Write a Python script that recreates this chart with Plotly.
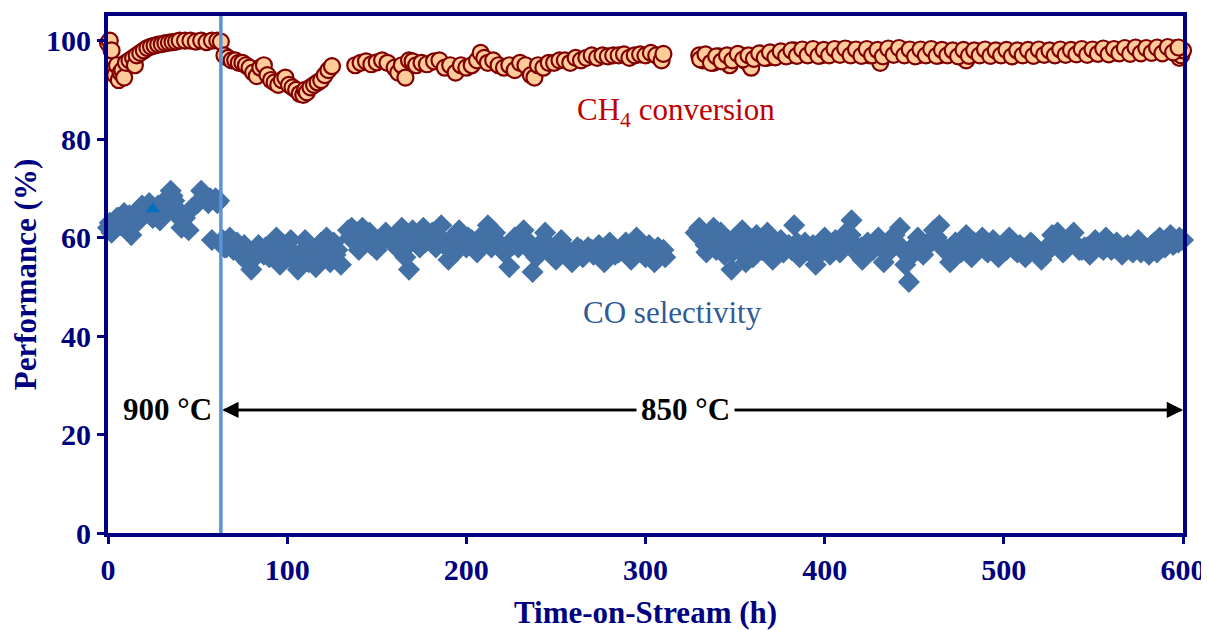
import plotly.graph_objects as go

# ---- CH4 conversion (%) ----
ch4_t = [0, 1, 2, 3, 4, 5, 6, 7, 8, 9, 10, 12, 14, 15, 16, 18, 20, 22, 24, 26, 28, 30, 32, 34, 36, 38, 40, 43, 46, 49, 52, 55, 58, 61, 63,
         65, 67, 69, 71, 73, 75, 77, 79, 81, 83, 85, 87, 89, 91, 93, 95, 97, 99, 101, 103, 105, 107, 109, 110, 111, 113, 115, 117, 119, 121, 123, 125,
         138, 141, 144, 147, 150, 153, 156, 160, 162, 164, 166, 168, 170, 172, 175, 178, 182, 185, 188, 191, 194, 197, 200, 203, 206, 208, 210, 212,
         215, 218, 221, 224, 227, 230, 233, 236, 238, 240, 243, 246, 249, 252, 255, 258, 261, 264, 267, 270, 273, 276, 279, 282, 285, 288, 291, 294,
         297, 300, 303, 306, 309, 310,
         330, 332, 335, 338, 341, 344, 347, 350, 353, 356, 359, 362, 365, 368, 371, 374, 377, 380, 383, 386, 389, 392, 395, 398, 401, 404, 407, 410,
         413, 416, 419, 422, 425, 428, 431, 434, 437, 440, 443, 446, 449, 452, 455, 458, 461, 464, 467, 470, 473, 476, 479, 482, 485, 488, 491, 494,
         497, 500, 503, 506, 509, 512, 515, 518, 521, 524, 527, 530, 533, 536, 539, 542, 545, 548, 551, 554, 557, 560, 563, 566, 569, 572, 575, 578,
         581, 584, 587, 590, 593, 596, 598, 599, 600]
ch4_v = [99.5, 100, 98.0, 94.0, 93.0, 95.0, 92.0, 93.5, 94.0, 92.5, 95.5, 96.0, 96.5, 95.0, 97.0, 97.5, 98.0, 98.5, 98.8, 99.0, 99.2, 99.3, 99.5, 99.6, 99.7, 99.8, 100, 100, 100, 99.8, 100, 99.7, 100, 100, 99.8,
         97.0, 96.5, 96.0, 96.0, 95.5, 95.5, 95.0, 94.5, 93.5, 92.8, 94.5, 95.0, 93.0, 92.0, 91.5, 91.0, 92.0, 92.5, 91.0, 90.5, 90.0, 89.2, 89.0, 90.0, 89.5, 90.5, 91.0, 91.5, 92.0, 93.0, 94.0, 94.8,
         95.0, 95.5, 95.8, 95.2, 95.6, 96.0, 95.5, 94.5, 93.5, 95.0, 92.5, 96.0, 95.8, 95.0, 95.5, 95.2, 95.8, 96.0, 94.5, 95.0, 93.5, 95.0, 94.5, 95.0, 96.0, 97.5, 96.5, 95.5,
         96.0, 95.0, 94.5, 95.0, 94.0, 95.5, 95.0, 93.0, 92.5, 95.0, 94.5, 95.5, 95.5, 96.0, 96.0, 95.5, 96.5, 96.0, 96.5, 97.0, 96.5, 97.0, 96.8, 97.0, 97.0, 97.2, 96.5, 97.0,
         97.2, 97.0, 97.5, 97.0, 96.0, 97.3,
         97.0, 96.0, 96.5, 95.5, 96.8, 96.0, 95.0, 96.5, 97.0, 95.8, 94.5, 96.5, 97.0, 96.5, 97.2, 97.0, 97.5, 97.0, 98.0, 97.5, 97.2, 97.8, 97.5, 97.0, 97.8, 97.5, 98.0, 97.5,
         98.2, 97.8, 97.5, 97.8, 97.0, 97.5, 95.5, 97.5, 98.0, 97.5, 98.2, 97.5, 97.8, 97.0, 97.5, 97.8, 97.5, 97.0, 97.6, 97.8, 97.5, 97.2, 96.0, 97.6, 97.8, 97.5, 97.3, 97.6,
         97.8, 97.4, 97.6, 97.5, 97.8, 97.5, 97.7, 97.2, 97.5, 97.8, 97.5, 97.6, 97.8, 97.4, 97.5, 97.8, 97.6, 97.9, 97.5, 97.8, 98.0, 97.8, 97.5, 98.0, 98.2, 98.0, 98.3, 98.0,
         98.2, 98.0, 97.8, 98.2, 98.4, 98.5, 96.5, 97.0, 98.0]

# extra readings in the long 850 °C run (shared time stamps)
late_t = [330.5, 333.5, 336.5, 339.5, 342.5, 345.5, 348.5, 351.5, 354.5, 357.5,
          360.5, 363.5, 366.5, 369.5, 372.5, 375.5, 378.5, 381.5, 384.5, 387.5,
          390.5, 393.5, 396.5, 399.5, 402.5, 405.5, 408.5, 411.5, 414.5, 417.5,
          420.5, 423.5, 426.5, 429.5, 432.5, 435.5, 438.5, 441.5, 444.5, 447.5,
          450.5, 453.5, 456.5, 459.5, 462.5, 465.5, 468.5, 471.5, 474.5, 477.5,
          480.5, 483.5, 486.5, 489.5, 492.5, 495.5, 498.5, 501.5, 504.5, 507.5,
          510.5, 513.5, 516.5, 519.5, 522.5, 525.5, 528.5, 531.5, 534.5, 537.5,
          540.5, 543.5, 546.5, 549.5, 552.5, 555.5, 558.5, 561.5, 564.5, 567.5,
          570.5, 573.5, 576.5, 579.5, 582.5, 585.5, 588.5, 591.5, 594.5, 597.5]
ch4_late_v = [96.2, 97.2, 95.5, 96.8, 95.8, 97.0, 96.0, 97.3, 96.2, 97.0,
              96.3, 97.4, 96.5, 97.6, 96.6, 97.8, 96.8, 98.0, 96.9, 98.2,
              97.0, 98.3, 96.9, 98.1, 97.0, 98.3, 97.1, 98.4, 97.0, 98.2,
              96.9, 98.3, 97.0, 98.1, 96.8, 98.4, 97.1, 98.5, 97.0, 98.2,
              96.8, 98.2, 97.0, 98.3, 96.9, 98.1, 97.0, 98.0, 96.8, 98.1,
              96.9, 98.0, 97.0, 98.2, 96.9, 98.0, 97.0, 98.1, 96.8, 98.0,
              97.0, 98.1, 96.9, 98.2, 97.1, 98.0, 97.0, 98.2, 97.1, 98.1,
              97.2, 98.3, 97.1, 98.2, 97.3, 98.4, 97.2, 98.3, 97.4, 98.5,
              97.3, 98.6, 97.4, 98.5, 97.5, 98.6, 97.4, 98.7, 97.6, 98.6]
co_late_v = [60.0, 58.5, 59.0, 57.5, 59.5, 58.0, 57.0, 58.5, 59.0, 57.5,
             58.0, 59.0, 58.5, 57.0, 58.0, 59.5, 58.0, 57.5, 59.0, 58.0,
             57.5, 58.5, 56.5, 57.5, 58.5, 58.0, 57.0, 59.5, 60.5, 57.0,
             58.0, 56.5, 58.0, 59.0, 57.5, 57.0, 59.5, 58.5, 57.0, 56.0,
             58.5, 57.5, 58.0, 59.5, 60.0, 58.5, 57.0, 58.0, 57.5, 58.5,
             57.5, 59.0, 58.0, 57.5, 58.5, 57.0, 58.0, 57.5, 58.5, 57.0,
             57.5, 58.0, 58.5, 57.0, 56.5, 58.5, 59.0, 58.0, 57.5, 59.0,
             58.5, 57.5, 58.0, 57.5, 58.5, 57.5, 59.0, 58.0, 57.5, 58.0,
             57.5, 58.5, 57.0, 57.5, 58.5, 57.0, 58.0, 59.0, 58.5, 59.0]

# ---- CO selectivity (%) ----
co_t = [0, 2, 3, 5, 7, 9, 11, 13, 15, 17, 19, 21, 23, 25, 27, 29, 31, 33, 35, 37, 39, 41, 43, 45, 50, 52, 54, 56, 58, 60, 62,
        64, 66, 68, 70, 72, 74, 76, 78, 80, 82, 85, 88, 90, 92, 94, 96, 98, 100, 102, 104, 106, 108, 110, 112, 114, 116, 118, 120, 122, 124, 126, 128, 130,
        134, 136, 138, 140, 142, 144, 146, 148, 150, 152, 155, 158, 161, 164, 166, 168, 170, 172, 174, 176, 178, 180, 183, 186, 188, 190, 192, 194,
        196, 198, 200, 203, 206, 209, 212, 214, 216, 218, 221, 224, 227, 229, 232, 235, 237, 239, 241, 244, 247, 250, 253, 256, 259, 262, 265, 268,
        271, 274, 277, 280, 283, 286, 289, 292, 295, 298, 300, 302, 305, 308, 311,
        328, 330, 332, 334, 336, 338, 340, 342, 344, 346, 348, 350, 352, 354, 356, 358, 360, 362, 365, 368, 371, 374, 377, 380, 383, 386, 389, 392,
        395, 398, 400, 403, 406, 409, 412, 415, 418, 421, 424, 427, 430, 433, 436, 439, 442, 445, 447, 449, 452, 455, 458, 461, 464, 467, 470, 473,
        476, 479, 482, 485, 488, 491, 494, 497, 500, 503, 506, 509, 512, 515, 518, 521, 524, 527, 530, 533, 536, 539, 542, 545, 548, 551, 554, 557,
        560, 563, 566, 569, 572, 575, 578, 581, 584, 587, 590, 593, 596, 598, 600]
co_v = [62.0, 61.0, 63.0, 64.0, 62.5, 65.0, 63.0, 60.5, 64.0, 65.5, 66.5, 65.0, 67.0, 64.0, 66.0, 63.5, 66.0, 68.0, 69.5, 67.5, 65.0, 62.0, 64.0, 61.5, 67.0, 69.5, 68.5, 67.0, 59.5, 68.0, 67.5,
        59.5, 58.0, 60.0, 57.5, 59.0, 56.5, 58.5, 55.0, 53.5, 56.0, 57.5, 58.0, 56.0, 59.0, 60.0, 54.5, 58.0, 57.5, 59.5, 55.0, 53.5, 57.0, 59.5, 55.0, 57.0, 54.0, 58.5, 56.0, 60.0, 55.0, 59.0, 57.5, 54.5,
        61.5, 62.0, 60.0, 57.5, 62.0, 59.0, 61.0, 60.0, 57.5, 59.0, 61.0, 59.5, 58.0, 62.0, 56.0, 53.5, 61.5, 60.0, 58.0, 62.0, 59.5, 60.5, 58.0, 62.5, 59.0, 55.5, 60.0, 57.0,
        61.5, 60.0, 58.0, 59.5, 57.0, 60.5, 62.5, 58.0, 61.0, 59.0, 57.0, 54.0, 60.0, 58.0, 61.5, 59.0, 53.0, 56.0, 58.5, 61.0, 57.0, 55.5, 59.5, 57.0, 55.0, 58.0, 56.0, 58.0,
        56.5, 58.5, 55.0, 59.0, 56.5, 57.5, 59.0, 55.5, 60.0, 57.0, 56.0, 58.5, 55.0, 57.0, 56.0,
        61.0, 62.0, 59.5, 57.0, 60.5, 62.0, 58.0, 61.0, 56.5, 59.5, 53.5, 60.0, 57.5, 61.5, 55.0, 59.0, 56.0, 60.5, 57.5, 61.0, 55.5, 59.0, 57.0, 58.5, 62.5, 56.0, 59.0, 57.0,
        54.5, 58.5, 60.0, 56.5, 59.5, 57.5, 61.0, 63.5, 58.0, 55.5, 59.0, 57.5, 60.0, 55.0, 58.0, 60.5, 62.0, 54.5, 51.0, 58.0, 60.0, 56.5, 59.0, 61.5, 62.5, 57.5, 55.0, 59.0,
        57.0, 60.5, 56.0, 58.5, 60.0, 57.0, 59.5, 56.0, 58.0, 60.0, 57.5, 58.5, 56.0, 59.0, 57.5, 55.5, 58.0, 60.5, 61.0, 57.0, 59.0, 61.0, 57.5, 58.0, 56.5, 59.5, 58.0, 60.0,
        57.5, 59.0, 56.5, 58.5, 57.0, 59.5, 58.0, 56.5, 59.0, 60.0, 58.0, 60.5, 59.0, 60.0, 59.5]

# extra CO readings in the first 310 h
co_early_t = [1, 4, 6, 8, 10, 12, 14, 16, 18, 20, 22, 24, 26, 28, 30, 32, 34, 36, 38, 40, 47, 53, 57, 61, 65, 69, 73, 77, 81, 84,
              87, 91, 95, 99, 103, 107, 111, 115, 119, 123, 127,
              135, 139, 143, 147, 151, 157, 163, 169, 173, 177, 181, 185, 189, 193, 197, 201, 205, 208, 211, 215, 219, 223, 226, 230,
              234, 238, 242, 246, 249, 252, 255, 258, 261, 264, 267, 270, 273, 276, 279, 282, 285, 288, 291, 294, 297, 301, 304, 307, 310]
co_early_v = [63.0, 62.0, 64.0, 63.5, 62.0, 64.5, 62.5, 63.0, 64.0, 65.5, 66.0, 65.5, 64.5, 66.5, 65.0, 67.0, 66.0, 68.5, 66.0, 64.0, 66.0, 68.0, 68.0, 67.0, 58.0, 58.5, 58.0, 57.5, 56.0, 58.5,
              56.5, 57.5, 56.5, 58.5, 57.0, 56.0, 55.5, 57.5, 59.0, 58.0, 56.5,
              60.0, 61.0, 60.0, 58.5, 59.5, 60.0, 60.0, 59.0, 60.5, 59.0, 61.0, 60.0, 58.0, 59.0, 59.5, 60.0, 58.5, 59.0, 60.0, 59.5, 58.0, 57.5, 58.5, 59.5,
              58.0, 57.5, 59.0, 58.5, 58.0, 57.5, 58.0, 56.5, 57.0, 57.5, 57.0, 57.5, 57.5, 56.5, 57.0, 58.0, 57.0, 58.0, 57.5, 57.0, 58.5, 57.5, 57.0, 58.0, 57.5]

tri_t = [25]
tri_v = [65.8]

switch_time = 63
arrow_y = 25

NAVY = "#000080"
FONT = "Liberation Serif"

co_all_t = co_t + co_early_t + late_t
co_all_v = co_v + co_early_v + co_late_v
ch4_all_t = ch4_t + late_t
ch4_all_v = ch4_v + ch4_late_v

fig = go.Figure()
fig.add_trace(go.Scatter(x=co_all_t, y=co_all_v, mode="markers", name="CO selectivity", cliponaxis=False,
                         marker=dict(symbol="diamond", size=17, color="#4371A6",
                                     line=dict(width=0))))
fig.add_trace(go.Scatter(x=tri_t, y=tri_v, mode="markers", name="point", cliponaxis=False,
                         marker=dict(symbol="triangle-up", size=13, color="#0070C0",
                                     line=dict(width=0))))
fig.add_trace(go.Scatter(x=ch4_all_t, y=ch4_all_v, mode="markers", name="CH4 conversion", cliponaxis=False,
                         marker=dict(symbol="circle", size=16, color="#FFCC99",
                                     line=dict(width=2.2, color="#800000"))))

# vertical switch line
fig.add_shape(type="line", x0=switch_time, x1=switch_time, y0=0, y1=105,
              xref="x", yref="y", line=dict(color="#5B93D8", width=3.5), layer="above")

# double-headed arrow
fig.add_annotation(x=switch_time + 0.8, y=arrow_y, ax=600, ay=arrow_y, xref="x", yref="y",
                   axref="x", ayref="y", showarrow=True, arrowhead=2, arrowsize=1.3,
                   arrowwidth=2.5, arrowcolor="black", text="")
fig.add_annotation(x=600, y=arrow_y, ax=switch_time + 0.8, ay=arrow_y, xref="x", yref="y",
                   axref="x", ayref="y", showarrow=True, arrowhead=2, arrowsize=1.3,
                   arrowwidth=2.5, arrowcolor="black", text="")

fig.add_annotation(x=322.5, y=arrow_y, xref="x", yref="y", text="<b>850 °C</b>", showarrow=False,
                   font=dict(family=FONT, size=31, color="black"), bgcolor="white", borderpad=4)
fig.add_annotation(x=33, y=arrow_y, xref="x", yref="y", text="<b>900 °C</b>", showarrow=False,
                   font=dict(family=FONT, size=31, color="black"))

fig.add_annotation(x=317, y=85.5, xref="x", yref="y", text="CH<sub>4</sub> conversion", showarrow=False,
                   font=dict(family=FONT, size=31, color="#C00000"))
fig.add_annotation(x=315, y=44.7, xref="x", yref="y", text="CO selectivity", showarrow=False,
                   font=dict(family=FONT, size=31, color="#2F5A97"))

axis_common = dict(showline=True, linecolor=NAVY, linewidth=4, mirror=True,
                   ticks="outside", ticklen=7, tickwidth=3, tickcolor=NAVY,
                   showgrid=False, zeroline=False, automargin=False,
                   tickfont=dict(family=FONT, size=30, color=NAVY))

fig.update_xaxes(range=[0, 600], tickvals=[0, 100, 200, 300, 400, 500, 600],
                 ticktext=["<b>0</b>", "<b>100</b>", "<b>200</b>", "<b>300</b>", "<b>400</b>", "<b>500</b>", "<b>600</b>"],
                 title=dict(text="<b>Time-on-Stream (h)</b>", font=dict(family=FONT, size=31, color=NAVY), standoff=18),
                 **axis_common)
fig.update_yaxes(range=[0, 105], tickvals=[0, 20, 40, 60, 80, 100],
                 ticktext=["<b>0</b>", "<b>20</b>", "<b>40</b>", "<b>60</b>", "<b>80</b>", "<b>100</b>"],
                 title=dict(text="<b>Performance (%)</b>", font=dict(family=FONT, size=31, color=NAVY), standoff=8),
                 **axis_common)

# the page adds an 8 px body margin, so the figure is sized to fit the window
fig.update_layout(width=1201, height=622, margin=dict(l=100, r=26, t=8, b=97),
                  paper_bgcolor="white", plot_bgcolor="white", showlegend=False)

fig.write_html("out.html")
